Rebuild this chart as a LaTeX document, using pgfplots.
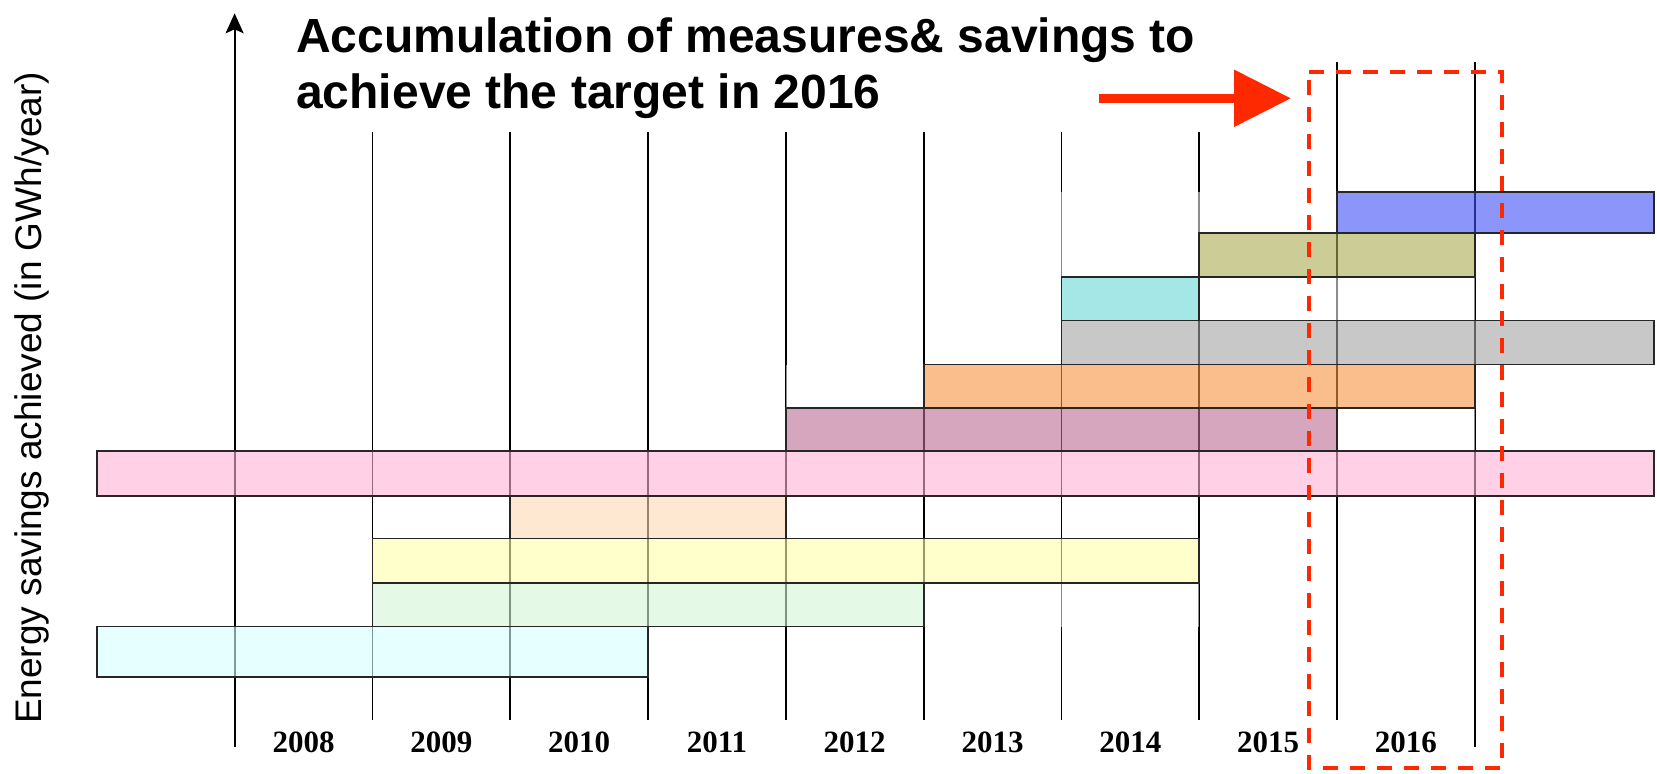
\documentclass[border=0pt]{standalone}
\usepackage{fontspec}
\setmainfont{Liberation Sans}
\newfontfamily\yearfont{Liberation Serif}
\usepackage{pgfplots}
\pgfplotsset{compat=1.18}
\usetikzlibrary{arrows.meta}

\definecolor{cA}{rgb}{0.837,1,1}
\definecolor{cB}{rgb}{0.824,0.967,0.837}
\definecolor{cC}{rgb}{1,1,0.667}
\definecolor{cD}{rgb}{1,0.850,0.706}
\definecolor{cE}{rgb}{1,0.693,0.837}
\definecolor{cF}{rgb}{0.732,0.418,0.575}
\definecolor{cG}{rgb}{0.967,0.575,0.248}
\definecolor{cH}{rgb}{0.64,0.64,0.64}
\definecolor{cI}{rgb}{0.412,0.837,0.837}
\definecolor{cJ}{rgb}{0.667,0.667,0.314}
\definecolor{cK}{rgb}{0.248,0.314,0.967}
\definecolor{arrowred}{rgb}{1,0.16,0}

\begin{document}
\begin{tikzpicture}
\begin{axis}[
  scale only axis, width=1657bp, height=773bp,
  xmin=2006.2975, xmax=2018.322, ymin=-2.209, ymax=15.521,
  hide axis, clip=false, no markers,
  bar/.style={draw=black!85, line width=1.8bp, fill opacity=0.6, line join=miter},
  wbox/.style={draw=none, fill=white, fill opacity=0.55},
  yline/.style={black, line width=1.8bp},
]
% year boundary lines
\addplot[black, line width=2bp, -{Stealth[length=20bp,width=18bp,inset=4bp]}] coordinates {(2008,-1.606) (2008,15.216)};
\addplot[yline] coordinates {(2009,-0.994) (2009,12.5)};
\addplot[yline] coordinates {(2010,-0.994) (2010,12.5)};
\addplot[yline] coordinates {(2011,-0.994) (2011,12.5)};
\addplot[yline] coordinates {(2012,-0.994) (2012,12.5)};
\addplot[yline] coordinates {(2013,-0.994) (2013,12.5)};
\addplot[yline] coordinates {(2014,-0.994) (2014,12.5)};
\addplot[yline] coordinates {(2015,-0.994) (2015,12.5)};
\addplot[yline] coordinates {(2016,-0.994) (2016,14.106)};
\addplot[yline] coordinates {(2017,-1.606) (2017,14.106)};

% white (empty) segments
\addplot[wbox] coordinates {(2012,6.16) (2013,6.16) (2013,7.16) (2012,7.16)} -- cycle;
\addplot[wbox] coordinates {(2014,9.17) (2015,9.17) (2015,11.12) (2014,11.12)} -- cycle;
\addplot[wbox] coordinates {(2015,10.17) (2016,10.17) (2016,11.12) (2015,11.12)} -- cycle;
\addplot[wbox] coordinates {(2016,5.18) (2017,5.18) (2017,6.16) (2016,6.16)} -- cycle;
\addplot[wbox] coordinates {(2013,1.15) (2015,1.15) (2015,2.15) (2013,2.15)} -- cycle;
\addplot[wbox] coordinates {(2015,8.17) (2017,8.17) (2017,9.17) (2015,9.17)} -- cycle;

% measures
\addplot[bar, fill=cA] coordinates {(2007,0) (2011,0) (2011,1.15) (2007,1.15)} -- cycle;
\addplot[bar, fill=cB] coordinates {(2009,1.15) (2013,1.15) (2013,2.15) (2009,2.15)} -- cycle;
\addplot[bar, fill=cC] coordinates {(2009,2.15) (2015,2.15) (2015,3.17) (2009,3.17)} -- cycle;
\addplot[bar, fill=cD] coordinates {(2010,3.17) (2012,3.17) (2012,4.15) (2010,4.15)} -- cycle;
\addplot[bar, fill=cE] coordinates {(2007,4.15) (2018.3,4.15) (2018.3,5.18) (2007,5.18)} -- cycle;
\addplot[bar, fill=cF] coordinates {(2012,5.18) (2016,5.18) (2016,6.16) (2012,6.16)} -- cycle;
\addplot[bar, fill=cG] coordinates {(2013,6.16) (2017,6.16) (2017,7.16) (2013,7.16)} -- cycle;
\addplot[bar, fill=cH] coordinates {(2014,7.16) (2018.3,7.16) (2018.3,8.17) (2014,8.17)} -- cycle;
\addplot[bar, fill=cI] coordinates {(2014,8.17) (2015,8.17) (2015,9.17) (2014,9.17)} -- cycle;
\addplot[bar, fill=cJ] coordinates {(2015,9.17) (2017,9.17) (2017,10.17) (2015,10.17)} -- cycle;
\addplot[bar, fill=cK] coordinates {(2016,10.17) (2018.3,10.17) (2018.3,11.12) (2016,11.12)} -- cycle;

% red arrow and dashed target box
\addplot[arrowred, line width=9bp, -{Triangle[length=57bp,width=55bp]}] coordinates {(2014.273,13.266) (2015.666,13.266)};
\addplot[arrowred, line width=3.7bp, dash pattern=on 14.7bp off 12.3bp] coordinates {(2015.799,13.876) (2017.197,13.876) (2017.197,-2.094) (2015.799,-2.094)} -- cycle;

% texts
\node[anchor=base west, font=\fontsize{48bp}{56bp}\selectfont\bfseries, inner sep=0pt] at (axis cs:2008.446,14.31) {Accumulation of measures\& savings to};
\node[anchor=base west, font=\fontsize{48bp}{56bp}\selectfont\bfseries, inner sep=0pt] at (axis cs:2008.446,13.025) {achieve the target in 2016};
\node[rotate=90, font=\fontsize{37bp}{44bp}\selectfont, inner sep=0pt] at (axis cs:2006.528,6.392) {Energy savings achieved (in GWh/year)};
\node[font=\yearfont\bfseries\fontsize{31bp}{36bp}\selectfont, inner sep=0pt] at (axis cs:2008.5,-1.514) {2008};
\node[font=\yearfont\bfseries\fontsize{31bp}{36bp}\selectfont, inner sep=0pt] at (axis cs:2009.5,-1.514) {2009};
\node[font=\yearfont\bfseries\fontsize{31bp}{36bp}\selectfont, inner sep=0pt] at (axis cs:2010.5,-1.514) {2010};
\node[font=\yearfont\bfseries\fontsize{31bp}{36bp}\selectfont, inner sep=0pt] at (axis cs:2011.5,-1.514) {2011};
\node[font=\yearfont\bfseries\fontsize{31bp}{36bp}\selectfont, inner sep=0pt] at (axis cs:2012.5,-1.514) {2012};
\node[font=\yearfont\bfseries\fontsize{31bp}{36bp}\selectfont, inner sep=0pt] at (axis cs:2013.5,-1.514) {2013};
\node[font=\yearfont\bfseries\fontsize{31bp}{36bp}\selectfont, inner sep=0pt] at (axis cs:2014.5,-1.514) {2014};
\node[font=\yearfont\bfseries\fontsize{31bp}{36bp}\selectfont, inner sep=0pt] at (axis cs:2015.5,-1.514) {2015};
\node[font=\yearfont\bfseries\fontsize{31bp}{36bp}\selectfont, inner sep=0pt] at (axis cs:2016.5,-1.514) {2016};
\end{axis}
\pgfresetboundingbox
\path[use as bounding box] (current axis.south west) rectangle (current axis.north east);
\end{tikzpicture}
\end{document}
